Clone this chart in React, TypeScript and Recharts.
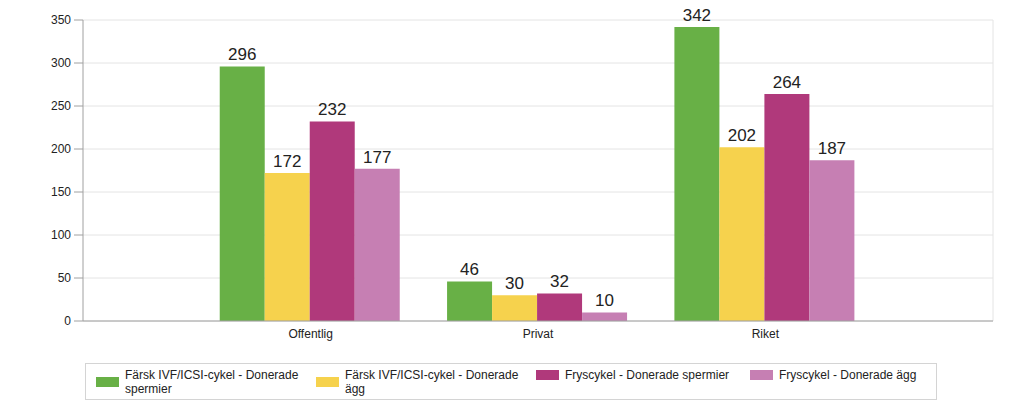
import React from 'react';
import { BarChart, Bar, XAxis, YAxis, CartesianGrid, LabelList, Legend } from 'recharts';

const categories = ['Offentlig', 'Privat', 'Riket'];
const farskSpermier = [296, 46, 342];
const farskAgg = [172, 30, 202];
const frysSpermier = [232, 32, 264];
const frysAgg = [177, 10, 187];
const yTicks = [0, 50, 100, 150, 200, 250, 300, 350];

const SERIES = [
  { key: 'farskSpermier', name: 'Färsk IVF/ICSI-cykel - Donerade spermier', color: '#68b046' },
  { key: 'farskAgg', name: 'Färsk IVF/ICSI-cykel - Donerade ägg', color: '#f6d24d' },
  { key: 'frysSpermier', name: 'Fryscykel - Donerade spermier', color: '#b0397b' },
  { key: 'frysAgg', name: 'Fryscykel - Donerade ägg', color: '#c67fb3' },
];

const data = categories.map((c, i) => ({
  name: c,
  farskSpermier: farskSpermier[i],
  farskAgg: farskAgg[i],
  frysSpermier: frysSpermier[i],
  frysAgg: frysAgg[i],
}));

const FONT = '"Liberation Sans", Arial, sans-serif';

// legend in a bordered box, text wraps like the original
const LegendBox = () => (
  <div
    style={{
      border: '1px solid #d4d4d4',
      height: 37,
      boxSizing: 'border-box',
      display: 'flex',
      alignItems: 'flex-start',
      paddingLeft: 10,
      paddingTop: 4,
      fontFamily: FONT,
      fontSize: 12,
      lineHeight: '14px',
      color: '#222',
      overflow: 'hidden',
    }}
  >
    {SERIES.map((s, i) => (
      <div
        key={s.key}
        style={{ width: i === 2 ? 214 : 220, flexShrink: 0, display: 'flex', alignItems: 'center' }}
      >
        <div style={{ width: 23, height: 10, background: s.color, marginRight: 6, flexShrink: 0 }} />
        <div style={{ maxWidth: 185 }}>{s.name}</div>
      </div>
    ))}
  </div>
);

export default function App() {
  return (
    <div style={{ position: 'absolute', left: 0, top: 0, background: '#fff' }}>
      <BarChart
        width={1024}
        height={416}
        data={data}
        margin={{ top: 20, right: 31, left: 0, bottom: 14 }}
        barCategoryGap="10%"
        barGap={0}
      >
        <CartesianGrid
          stroke="#e4e4e4"
          verticalCoordinatesGenerator={({ offset }: any) => [offset.left + offset.width]}
        />
        <XAxis
          dataKey="name"
          padding={{ left: 114, right: 114 }}
          tickLine={false}
          axisLine={{ stroke: '#a0a0a0' }}
          tick={{ fill: '#222', fontSize: 12, fontFamily: FONT }}
          height={42}
          interval={0}
        />
        <YAxis
          domain={[0, 350]}
          ticks={yTicks}
          width={83}
          tickSize={9}
          tickMargin={3}
          tickLine={{ stroke: '#a0a0a0' }}
          axisLine={{ stroke: '#a0a0a0' }}
          tick={{ fill: '#222', fontSize: 12, fontFamily: FONT }}
        />
        <Legend
          verticalAlign="bottom"
          content={<LegendBox />}
          wrapperStyle={{ left: 85, width: 852, height: 39 }}
        />
        {SERIES.map((s) => (
          <Bar key={s.key} dataKey={s.key} name={s.name} fill={s.color} isAnimationActive={false}>
            <LabelList
              dataKey={s.key}
              position="top"
              offset={6}
              style={{ fill: '#222', fontSize: 17, fontFamily: FONT }}
            />
          </Bar>
        ))}
      </BarChart>
    </div>
  );
}
